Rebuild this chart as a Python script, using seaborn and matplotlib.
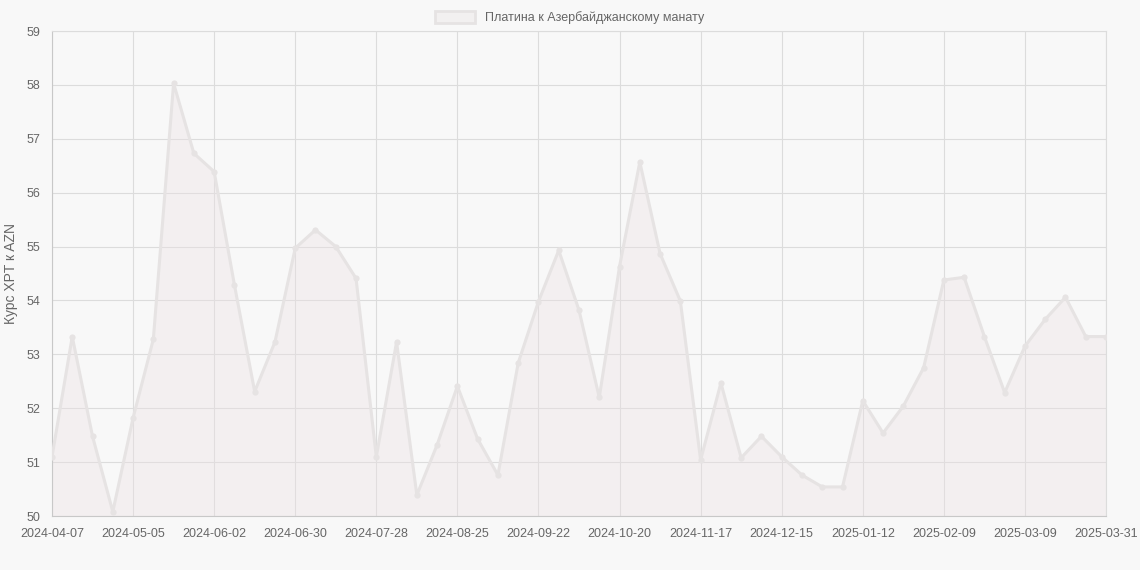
import numpy as np
import pandas as pd
import seaborn as sns
import matplotlib.pyplot as plt
from matplotlib.patches import Patch

# weekly dates (the last point is 2025-03-31)
dates = list(pd.date_range("2024-04-07", periods=52, freq="7D").strftime("%Y-%m-%d")) + ["2025-03-31"]

rates = [
    51.10, 53.33, 51.48, 50.08, 51.82, 53.28, 58.03, 56.73, 56.39, 54.29,
    52.31, 53.23, 54.97, 55.31, 55.00, 54.41, 51.10, 53.23, 50.39, 51.32,
    52.41, 51.43, 50.76, 52.84, 53.98, 54.93, 53.82, 52.20, 54.63, 56.57,
    54.87, 53.99, 51.04, 52.47, 51.08, 51.48, 51.10, 50.76, 50.54, 50.54,
    52.14, 51.54, 52.04, 52.75, 54.38, 54.43, 53.33, 52.29, 53.15, 53.65,
    54.06, 53.33, 53.33,
]

series_name = "Платина к Азербайджанскому манату"
y_label = "Курс XPT к AZN"

df = pd.DataFrame({"idx": range(len(dates)), "date": dates, "rate": rates})

sns.set_style("white")
plt.rcParams["font.family"] = ["Liberation Sans", "DejaVu Sans"]

bg = "#f8f8f8"
line_col = "#e6e3e3"
fill_col = (0.92, 0.88, 0.89, 0.35)
grid_col = "#dcdcdc"
text_col = "#666666"

fig = plt.figure(figsize=(11.4, 5.7), dpi=100, facecolor=bg)
ax = fig.add_axes([0.0456, 0.0947, 0.9246, 0.8509])
ax.set_facecolor(bg)

ax.fill_between(df["idx"], df["rate"], 50, color=fill_col, linewidth=0, zorder=1)
sns.lineplot(data=df, x="idx", y="rate", ax=ax, color=line_col, linewidth=2.2,
             marker="o", markersize=4.5, markeredgewidth=0, zorder=3)

ax.set_xlim(0, len(dates) - 1)
ax.set_ylim(50, 59)
tick_pos = list(range(0, len(dates) - 1, 4))
if tick_pos[-1] != len(dates) - 1:
    tick_pos.append(len(dates) - 1)
ax.set_xticks(tick_pos)
ax.set_xticklabels([dates[i] for i in tick_pos])
ax.set_yticks(range(50, 60))

ax.grid(True, color=grid_col, linewidth=0.8)
ax.set_axisbelow(True)
for s in ax.spines.values():
    s.set_color(grid_col)
    s.set_linewidth(0.8)
ax.spines["left"].set_color("#c8c8c8")
ax.spines["bottom"].set_color("#c8c8c8")

ax.tick_params(axis="both", colors=grid_col, labelcolor=text_col, labelsize=9, length=5, width=0.8)
ax.set_xlabel("")
ax.set_ylabel(y_label, color=text_col, fontsize=10, labelpad=6)

handle = Patch(facecolor=(0.95, 0.94, 0.94), edgecolor=line_col, linewidth=2)
fig.legend([handle], [series_name], loc="upper center", bbox_to_anchor=(0.5, 1.0),
           frameon=False, fontsize=9, labelcolor=text_col, handlelength=3.2, handleheight=1.0)

fig.savefig("out.png", dpi=100, facecolor=bg)
